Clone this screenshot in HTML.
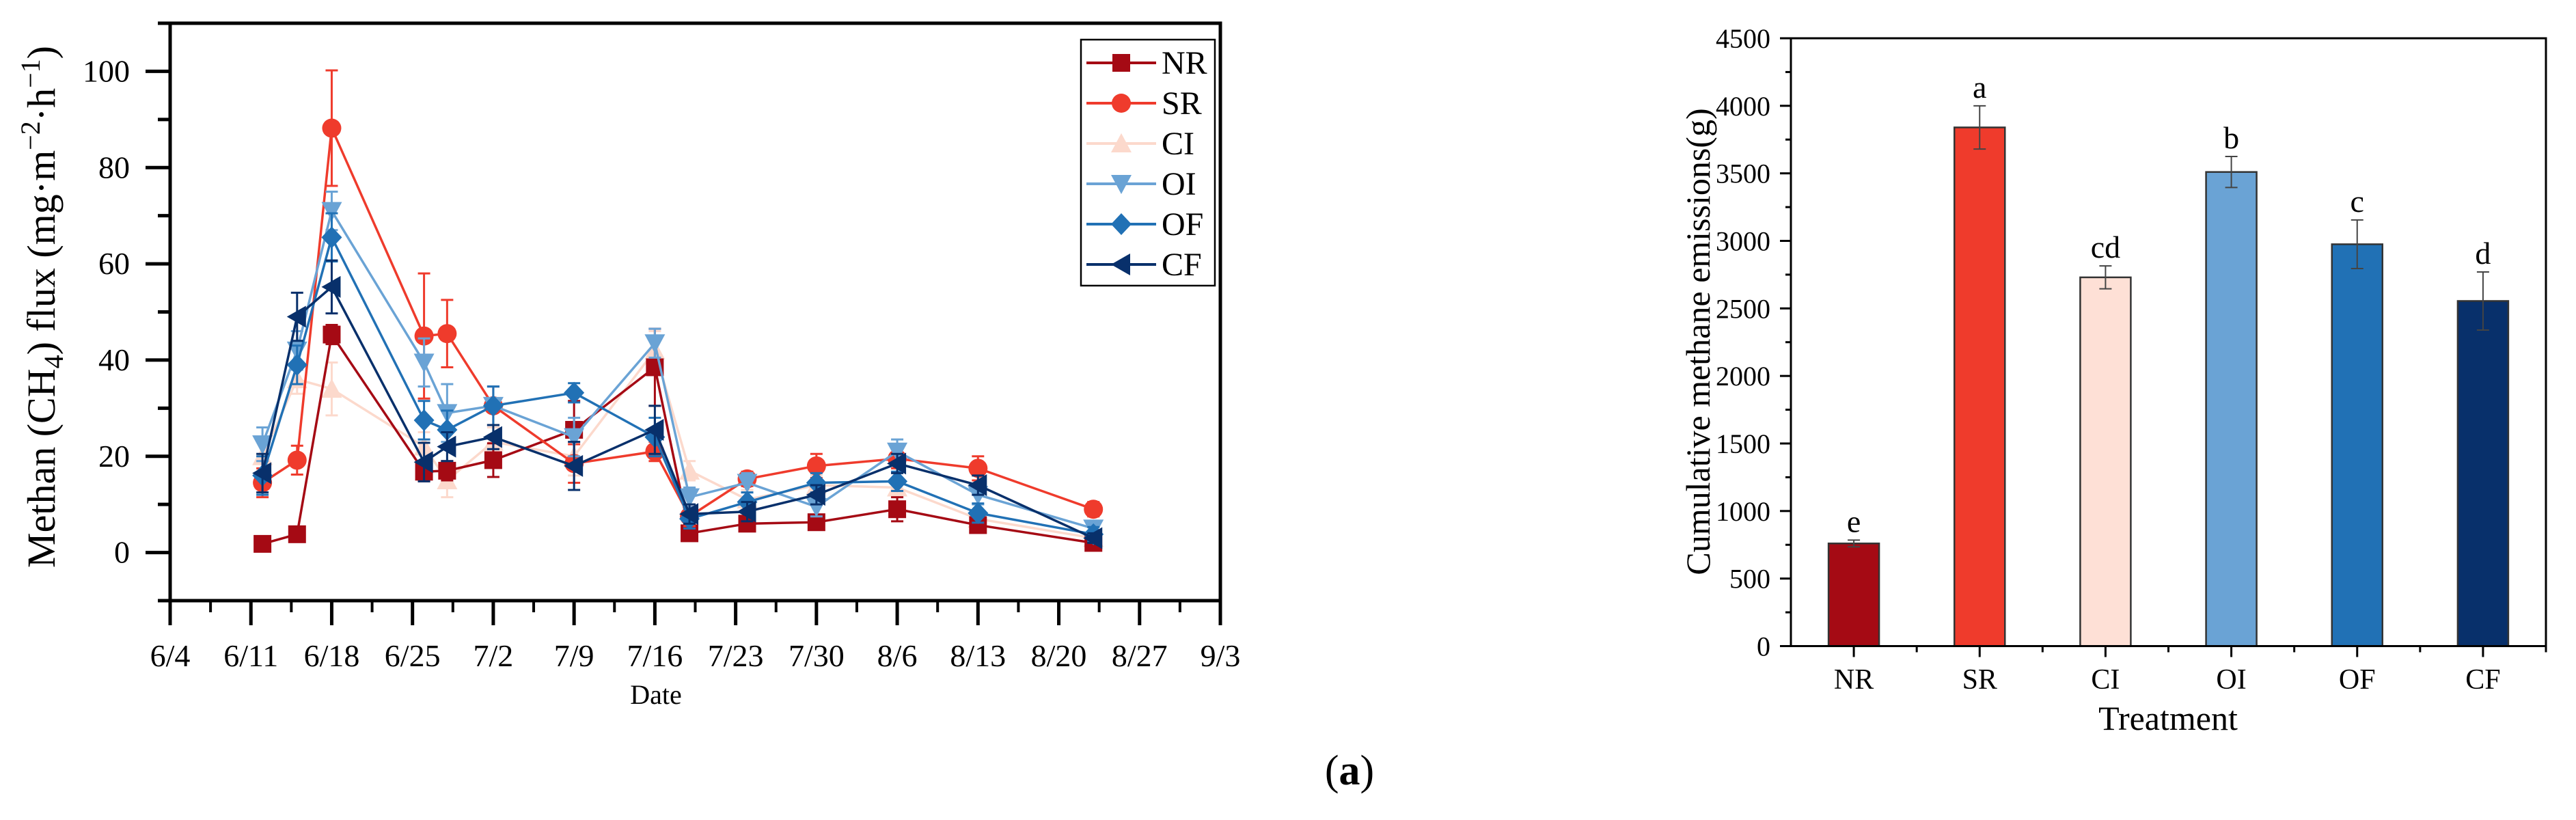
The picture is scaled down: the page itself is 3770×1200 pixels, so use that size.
<!DOCTYPE html>
<html><head><meta charset="utf-8"><style>
body{margin:0;background:#fff;width:3770px;height:1200px;overflow:hidden}
svg{display:block;font-family:"Liberation Serif",serif}
</style></head><body>
<svg id="root" width="3770" height="1200" viewBox="0 0 3770 1200">
<g id="left"></g>
<g id="right"></g>
<text x="1975" y="1148" font-size="62" text-anchor="middle">(<tspan font-weight="bold">a</tspan>)</text>
</svg>
<script>
const dates=["6/12","6/15","6/18","6/26","6/28","7/2","7/9","7/16","7/19","7/24","7/30","8/6","8/13","8/23"];
const tickLabels=["6/4","6/11","6/18","6/25","7/2","7/9","7/16","7/23","7/30","8/6","8/13","8/20","8/27","9/3"];
const yTicks=[0,20,40,60,80,100];
const seriesNames=["NR","SR","CI","OI","OF","CF"];
const NR=[1.8,3.8,45.3,16.8,17,19.2,25.5,38.5,4,6,6.3,9,5.7,2];
const SR=[14.5,19.2,88.2,45,45.5,30.5,18.5,21,7.5,15.3,18,19.5,17.5,9];
const CI=[20,36,34,22,15,23,20,42,17,11,14,13.5,7,3];
const OI=[22.5,42,71,39.5,29,30.5,24,43.5,11.5,14.5,9.5,21,12,5];
const OF=[16,39,65.5,27.5,25.5,30.5,33.2,24,7,10.5,14.5,14.8,8.2,3.8];
const CF=[16.5,49,55.2,18.8,22,24,18,25.5,8,8.5,12,18.5,14,3];
const NRerr=[1.5,1,2,2,2,3.5,6,8,1,1,1,2.5,1,1];
const SRerr=[3,3,12,13,7,4,4,2,2,1.5,2.5,2,2.5,1.5];
const CIerr=[3,3,5.5,3,3.5,3,4,4,2,2,2,2,1.5,1];
const OIerr=[3.5,4,4,5,6,4,4,3,2,2,2,2.5,2,1.5];
const OFerr=[4,4,5,4,4,4,2,4,2,2,2,2,2,1.5];
const CFerr=[4,5,5.5,4,3,2.5,5,5,2,2,2,2,2,1];
const barCats=["NR","SR","CI","OI","OF","CF"];
const barVals=[760,3840,2730,3510,2975,2555];
const barErr=[25,160,85,115,180,215];
const barLetters=["e","a","cd","b","c","d"];
const barYTicks=[0,500,1000,1500,2000,2500,3000,3500,4000,4500];

const NS="http://www.w3.org/2000/svg";
function mk(p,t,a){const e=document.createElementNS(NS,t);for(const k in a)e.setAttribute(k,a[k]);p.appendChild(e);return e;}
const colors=["#a50a14","#ef3b2c","#fcd9cc","#6aa3d5","#2171b5","#08306b"];
const L=document.getElementById('left');
const x0=249,x1=1786,yT=34,yB=879;
const dayOf=s=>{const [m,d]=s.split('/').map(Number);return m===6?d-4:m===7?26+d:m===8?57+d:88+d;};
const xs=d=>x0+dayOf(d)*(x1-x0)/91;
const ys=v=>yB-(v+10)*(yB-yT)/120;
let e=mk(L,'rect',{x:x0,y:yT,width:x1-x0,height:yB-yT,fill:'none',stroke:'#000','stroke-width':5});

for(let i=0;i<tickLabels.length;i++){
  const x=xs(tickLabels[i]);
  e=mk(L,'line',{x1:x,x2:x,y1:yB,y2:yB+36,stroke:'#000','stroke-width':5});
  
  if(i<tickLabels.length-1){const xm=x+3.5*(x1-x0)/91;mk(L,'line',{x1:xm,x2:xm,y1:yB,y2:yB+17,stroke:'#000','stroke-width':4});}
  e=mk(L,'text',{x:x,y:975,'font-size':46,'text-anchor':'middle'});e.textContent=tickLabels[i];
  
}
for(let v=-10;v<=110;v+=10){const y=ys(v);const maj=yTicks.includes(v);
  mk(L,'line',{x1:x0-(maj?36:18),x2:x0,y1:y,y2:y,stroke:'#000','stroke-width':5});}
for(const v of yTicks){e=mk(L,'text',{x:190,y:ys(v)+15,'font-size':46,'text-anchor':'end'});e.textContent=v;
  }
e=mk(L,'text',{x:960,y:1030,'font-size':40,'text-anchor':'middle'});e.textContent='Date';

e=mk(L,'text',{transform:'translate(80,449) rotate(-90)','font-size':58,'text-anchor':'middle'});
e.innerHTML='Methan (CH<tspan font-size="40" dy="12">4</tspan><tspan dy="-12">) flux (mg·m</tspan><tspan font-size="40" dy="-22">−2</tspan><tspan dy="22">·h</tspan><tspan font-size="40" dy="-22">−1</tspan><tspan dy="22">)</tspan>';

function marker(g,i,x,y){const c=colors[i];const s=13;
  if(i===0)return mk(g,'rect',{x:x-s,y:y-s,width:2*s,height:2*s,fill:c});
  if(i===1)return mk(g,'circle',{cx:x,cy:y,r:s+1,fill:c});
  if(i===2)return mk(g,'polygon',{points:`${x},${y-s-2} ${x+s+2},${y+s} ${x-s-2},${y+s}`,fill:c});
  if(i===3)return mk(g,'polygon',{points:`${x},${y+s+2} ${x+s+2},${y-s} ${x-s-2},${y-s}`,fill:c});
  if(i===4)return mk(g,'polygon',{points:`${x},${y-s-3} ${x+s+2},${y} ${x},${y+s+3} ${x-s-2},${y}`,fill:c});
  return mk(g,'polygon',{points:`${x-s-2},${y} ${x+s},${y-s-3} ${x+s},${y+s+3}`,fill:c});}
const allS=[NR,SR,CI,OI,OF,CF],allE=[NRerr,SRerr,CIerr,OIerr,OFerr,CFerr];
[2,0,1,3,4,5].forEach(i=>{const g=mk(L,'g',{});
  
  const vals=allS[i],er=allE[i],c=colors[i];
  mk(g,'polyline',{points:vals.map((v,k)=>xs(dates[k])+','+ys(v)).join(' '),fill:'none',stroke:c,'stroke-width':3.5});
  vals.forEach((v,k)=>{const x=xs(dates[k]);
    mk(g,'line',{x1:x,x2:x,y1:ys(v-er[k]),y2:ys(v+er[k]),stroke:c,'stroke-width':3});
    mk(g,'line',{x1:x-9,x2:x+9,y1:ys(v-er[k]),y2:ys(v-er[k]),stroke:c,'stroke-width':3});
    mk(g,'line',{x1:x-9,x2:x+9,y1:ys(v+er[k]),y2:ys(v+er[k]),stroke:c,'stroke-width':3});
    const m=marker(g,i,x,ys(v));});
});
const lg=mk(L,'g',{});
mk(lg,'rect',{x:1582,y:58,width:196,height:360,fill:'#fff',stroke:'#000','stroke-width':2.5});
seriesNames.forEach((n,i)=>{const y=92+i*59;const g=mk(lg,'g',{});
  
  mk(g,'line',{x1:1590,x2:1692,y1:y,y2:y,stroke:colors[i],'stroke-width':4});marker(g,i,1641,y);
  const t=mk(g,'text',{x:1700,y:y+16,'font-size':48});t.textContent=n;});

const R=document.getElementById('right');
const bx0=2621,bx1=3726,byT=56,byB=945.5;
const bys=v=>byB-v*(byB-byT)/4500;
const band=(bx1-bx0)/barCats.length;
barVals.forEach((v,i)=>{const cx=bx0+band*(i+0.5);
  const r=mk(R,'rect',{x:cx-37,y:bys(v),width:74,height:byB-bys(v),fill:colors[i],stroke:'#333','stroke-width':2.5});
  if(i===2)r.setAttribute('fill','#fee0d6');
  
  const eh=bys(v+barErr[i]),el=bys(v-barErr[i]);
  mk(R,'line',{x1:cx,x2:cx,y1:eh,y2:el,stroke:'#444','stroke-width':2});
  mk(R,'line',{x1:cx-9,x2:cx+9,y1:eh,y2:eh,stroke:'#444','stroke-width':2});
  mk(R,'line',{x1:cx-9,x2:cx+9,y1:el,y2:el,stroke:'#444','stroke-width':2});
  let t=mk(R,'text',{x:cx,y:eh-12,'font-size':46,'text-anchor':'middle'});t.textContent=barLetters[i];
  
  t=mk(R,'text',{x:cx,y:1008,'font-size':42,'text-anchor':'middle'});t.textContent=barCats[i];
  
  mk(R,'line',{x1:cx,x2:cx,y1:byB,y2:byB+16,stroke:'#000','stroke-width':3});
  const xb=bx0+band*(i+1);mk(R,'line',{x1:xb,x2:xb,y1:byB,y2:byB+9,stroke:'#000','stroke-width':3});
});
e=mk(R,'rect',{x:bx0,y:byT,width:bx1-bx0,height:byB-byT,fill:'none',stroke:'#000','stroke-width':3});

mk(R,'line',{x1:bx0-16,x2:bx0,y1:byB,y2:byB,stroke:'#000','stroke-width':3});
for(let v=0;v<=4500;v+=250){const y=bys(v);const maj=barYTicks.includes(v);
  mk(R,'line',{x1:bx0-(maj?16:8),x2:bx0,y1:y,y2:y,stroke:'#000','stroke-width':3});}
for(const v of barYTicks){e=mk(R,'text',{x:2591,y:bys(v)+14,'font-size':40,'text-anchor':'end'});e.textContent=v;
  }
e=mk(R,'text',{x:3173,y:1068,'font-size':50,'text-anchor':'middle'});e.textContent='Treatment';

e=mk(R,'text',{transform:'translate(2502,500) rotate(-90)','font-size':50,'text-anchor':'middle'});e.textContent='Cumulative methane emissions(g)';

</script>
</body></html>
